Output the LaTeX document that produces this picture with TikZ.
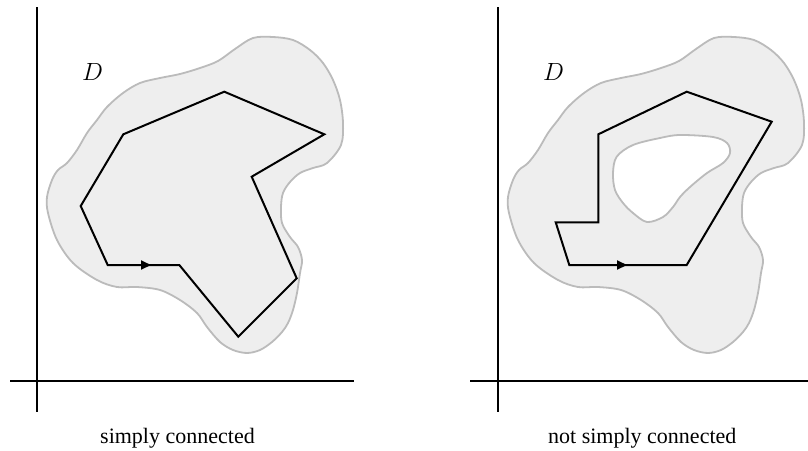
\documentclass[tikz,border=0pt]{standalone}
\usepackage{fontspec}
\setmainfont{Liberation Serif}
\usetikzlibrary{arrows.meta}
\definecolor{blobfill}{HTML}{EEEEEE}
\definecolor{blobline}{HTML}{BBBBBB}
\tikzset{
  axis/.style={line width=2pt, black},
  blob/.style={fill=blobfill, draw=blobline, line width=1.8pt},
  hole/.style={fill=white, draw=blobline, line width=1.8pt},
  loop/.style={line width=2pt, black, line join=miter},
  dir/.style={-{Triangle[length=10pt,width=9pt]}, line width=2pt},
  caption/.style={font=\fontsize{22}{26}\selectfont, inner sep=0pt, anchor=base west},
  dlabel/.style={font=\fontsize{27}{30}\selectfont, inner sep=0pt}
}
\newcommand{\blobpath}{plot[smooth cycle, tension=0.55] coordinates {
 (253,38) (273,37) (293,40) (310,50) (323,63) (333,80) (340,100) (343,123)
 (341,145) (327,163) (313,168) (300,173) (290,182) (283,193) (281,207)
 (282,223) (290,237) (298,247) (302,260) (300,273) (297,293) (293,310)
 (288,323) (282,332) (272,342) (260,350) (247,353) (233,350) (220,342)
 (207,327) (197,313) (180,300)
 (160,290) (137,287) (117,287) (97,280) (73,263) (57,240) (48,213)
 (47,197) (52,180) (58,170) (67,163) (77,150) (87,133) (97,120) (107,107)
 (123,93) (140,83) (160,78) (180,74) (200,68) (218,61) (235,49)}}
\begin{document}
\begin{tikzpicture}[x=1pt,y=-1pt]
\useasboundingbox (0,0) rectangle (808,450);
% ---------- left panel ----------
\draw[blob] \blobpath;
\draw[axis] (37,7) coordinate (lvt) -- (37,412) coordinate (lvb);
\draw[axis] (10,381) coordinate (lhl) -- (354,381) coordinate (lhr);
\node[dlabel] (dL) at (92.5,71.5) {$D$};
\coordinate (a1) at (107.7,265);
\coordinate (a2) at (179.3,265);
\coordinate (a3) at (238.3,336.7);
\coordinate (a4) at (296.7,278.3);
\coordinate (a5) at (251.7,176.7);
\coordinate (a6) at (324.3,134.3);
\coordinate (a7) at (224.3,91.7);
\coordinate (a8) at (123.3,134.3);
\coordinate (a9) at (80.7,206);
\draw[loop] (a1) -- (a2) -- (a3) -- (a4) -- (a5) -- (a6) -- (a7) -- (a8) -- (a9) -- cycle;
\coordinate (arL) at (151,265);
\draw[dir] (a1) -- (arL);
\node[caption] (capL) at (100,443) {simply connected};
% ---------- right panel ----------
\begin{scope}[xshift=461pt]
\draw[blob] \blobpath;
\end{scope}
\draw[hole] plot[smooth cycle, tension=0.55] coordinates {
 (616.7,156.7) (633,145) (660,138) (680,135) (713,137) (727,143) (730,153)
 (723,163) (707,173) (690,187) (680,197) (673,207) (663,217) (647,222)
 (633,213) (623,203) (615,190) (613,173)};
\draw[axis] (498,7) coordinate (rvt) -- (498,412) coordinate (rvb);
\draw[axis] (470,381) coordinate (rhl) -- (808,381) coordinate (rhr);
\node[dlabel] (dR) at (553.5,71.5) {$D$};
\coordinate (b1) at (569.3,265);
\coordinate (b2) at (686.7,265);
\coordinate (b3) at (771.7,121.7);
\coordinate (b4) at (686.7,91.7);
\coordinate (b5) at (598.3,134.3);
\coordinate (b6) at (598.3,222.3);
\coordinate (b7) at (555.7,222.3);
\draw[loop] (b1) -- (b2) -- (b3) -- (b4) -- (b5) -- (b6) -- (b7) -- cycle;
\coordinate (arR) at (627,265);
\draw[dir] (b1) -- (arR);
\node[caption] (capR) at (548,443) {not simply connected};
\end{tikzpicture}
\end{document}
